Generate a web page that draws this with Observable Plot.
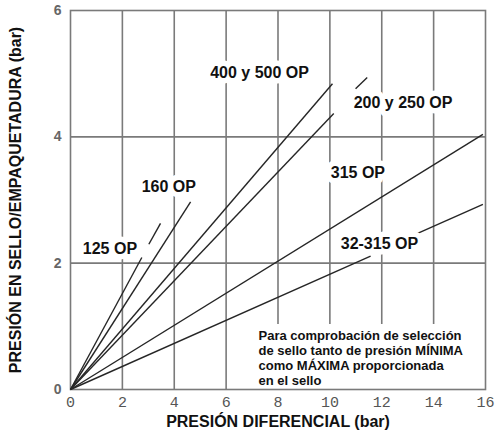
<!DOCTYPE html>
<html><head><meta charset="utf-8">
<script src="https://cdn.jsdelivr.net/npm/d3@7"></script>
<script src="https://cdn.jsdelivr.net/npm/@observablehq/plot@0.6"></script>
<style>html,body{margin:0;padding:0;background:#fff} svg{display:block}</style>
</head><body><div id="chart"></div>
<script>
// ---- data ----
const xTicks = [0, 2, 4, 6, 8, 10, 12, 14, 16];
const yTicks = [0, 2, 4, 6];
const gridX = [2, 4, 6, 8, 10, 12, 14];
const gridXStart = [0, 0, 0, 1.03, 1.03, 1.03, 1.03]; // grid stops at top of the note box
const gridY = [2, 4];

// line segments of each curve (solid parts and the short broken pieces)
const segSeries = ["125 OP", "125 OP", "160 OP", "400 y 500 OP", "200 y 250 OP", "200 y 250 OP", "315 OP", "32-315 OP", "32-315 OP"];
const segX1 = [0, 3.02, 0, 0, 0, 10.99, 0, 0, 13.1];
const segY1 = [0, 2.30, 0, 0, 0, 4.76, 0, 0, 2.42];
const segX2 = [2.75, 3.47, 4.63, 10.1, 10.15, 11.44, 15.9, 11.57, 15.9];
const segY2 = [2.09, 2.63, 2.97, 4.84, 4.37, 4.94, 4.04, 2.11, 2.93];

const labelText = ["125 OP", "160 OP", "400 y 500 OP", "200 y 250 OP", "315 OP", "32-315 OP"];
const labelX = [1.52, 3.79, 7.29, 12.82, 11.08, 11.91];
const labelY = [2.22, 3.20, 5.02, 4.54, 3.43, 2.30];

const noteLines = ["Para comprobación de selección", "de sello tanto de presión MÍNIMA", "como MÁXIMA proporcionada", "en el sello"];
const noteX = 7.25;
const noteY = 0.5;

const xTitle = "PRESIÓN DIFERENCIAL (bar)";
const yTitle = "PRESIÓN EN SELLO/EMPAQUETADURA (bar)";

// ---- chart ----
const segIdx = segSeries.map((_, i) => i);
const gridIdx = gridX.map((_, i) => i);
const labIdx = labelText.map((_, i) => i);
const gray = "#7a7a7a";

const chart = Plot.plot({
  width: 496,
  height: 438,
  marginLeft: 70,
  marginRight: 11,
  marginTop: 10,
  marginBottom: 49,
  x: {domain: [0, 16]},
  y: {domain: [0, 6]},
  style: {background: "white", fontFamily: "'Liberation Sans', Arial, sans-serif"},
  marks: [
    Plot.ruleX(gridIdx, {x: i => gridX[i], y1: i => gridXStart[i], y2: 6, stroke: gray, strokeWidth: 1.6}),
    Plot.ruleY(gridY, {y: d => d, stroke: gray, strokeWidth: 1.6}),
    Plot.frame({stroke: gray, strokeWidth: 1.6}),
    Plot.link(segIdx, {
      x1: i => segX1[i], y1: i => segY1[i], x2: i => segX2[i], y2: i => segY2[i],
      stroke: "#262626", strokeWidth: 1.4
    }),
    Plot.text(labIdx, {
      x: i => labelX[i], y: i => labelY[i], text: i => labelText[i],
      fontSize: 16, fontWeight: "bold", fill: "#111",
      stroke: "white", strokeWidth: 11, strokeLinejoin: "round"
    }),
    Plot.text([noteLines.join("\n")], {
      x: noteX, y: noteY, text: d => d,
      textAnchor: "start", lineAnchor: "middle", lineHeight: 1.15,
      fontSize: 13, fontWeight: "bold", fill: "#111",
      stroke: "white", strokeWidth: 6
    }),
    Plot.axisX({
      ticks: xTicks, tickSize: 0, tickPadding: 7, label: null, tickFormat: d => String(d),
      fontFamily: "'Liberation Mono', 'Courier New', monospace", fontSize: 15, fill: "#555"
    }),
    Plot.axisY({
      ticks: yTicks, tickSize: 0, tickPadding: 9, label: null, tickFormat: d => String(d),
      fontSize: 14, fontWeight: "bold", fill: "#666"
    }),
    Plot.text([xTitle], {
      frameAnchor: "bottom", dy: 37, text: d => d,
      fontSize: 16, fontWeight: "bold", fill: "#111"
    }),
    Plot.text([yTitle], {
      frameAnchor: "left", dx: -55, rotate: -90, textAnchor: "middle", text: d => d,
      fontSize: 16, fontWeight: "bold", fill: "#111"
    })
  ]
});
document.getElementById("chart").appendChild(chart);
</script>
</body></html>
